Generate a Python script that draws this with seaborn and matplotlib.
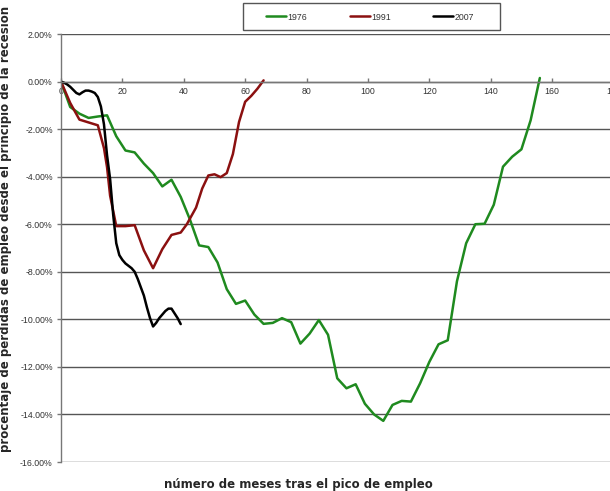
import numpy as np
import pandas as pd
import matplotlib
matplotlib.use("Agg")
import matplotlib.pyplot as plt
from matplotlib.patches import Rectangle
import seaborn as sns
from matplotlib.ticker import FuncFormatter

# ---- data (percent job losses vs. months after employment peak) ----
series_names = ["1976", "1991", "2007"]

x_1976 = [0, 3, 6, 9, 12, 15, 18, 21, 24, 27, 30, 33, 36, 39, 42, 45, 48, 51, 54,
          57, 60, 63, 66, 69, 72, 75, 78, 81, 84, 87, 90, 93, 96, 99, 102, 105,
          108, 111, 114, 117, 120, 123, 126, 129, 132, 135, 138, 141, 144, 147,
          150, 153, 156]
y_1976 = [0.0, -1.07, -1.35, -1.53, -1.47, -1.42, -2.3, -2.9, -2.98, -3.45, -3.85,
          -4.41, -4.13, -4.85, -5.8, -6.89, -6.96, -7.61, -8.73, -9.35, -9.21,
          -9.8, -10.19, -10.15, -9.95, -10.12, -11.02, -10.6, -10.03, -10.65,
          -12.48, -12.9, -12.73, -13.55, -14.0, -14.27, -13.6, -13.43, -13.46,
          -12.69, -11.79, -11.05, -10.88, -8.4, -6.8, -6.0, -5.98, -5.18, -3.58,
          -3.16, -2.85, -1.63, 0.15]

x_1991 = [0, 3, 6, 9, 12, 14, 15, 16, 18, 21, 24, 27, 30, 33, 36, 39, 41, 44, 46,
          48, 50, 52, 54, 56, 58, 60, 62, 64, 66]
y_1991 = [0.0, -0.9, -1.6, -1.72, -1.84, -2.8, -3.6, -4.8, -6.08, -6.08, -6.04,
          -7.1, -7.85, -7.05, -6.45, -6.35, -6.0, -5.3, -4.5, -3.95, -3.9, -4.02,
          -3.85, -3.05, -1.7, -0.85, -0.6, -0.3, 0.05]

x_2007 = list(range(0, 40))
y_2007 = [0.0, -0.05, -0.12, -0.22, -0.35, -0.48, -0.54, -0.45, -0.38, -0.38,
          -0.42, -0.48, -0.65, -1.05, -1.8, -3.1, -4.1, -5.6, -6.8, -7.3, -7.5,
          -7.65, -7.75, -7.85, -8.0, -8.3, -8.65, -9.0, -9.5, -9.95, -10.3,
          -10.15, -9.95, -9.8, -9.65, -9.55, -9.55, -9.75, -9.95, -10.2]

x_ticks = [0, 20, 40, 60, 80, 100, 120, 140, 160, 180]
y_ticks = [2, 0, -2, -4, -6, -8, -10, -12, -14, -16]

colors = {"1976": "#1f8a1f", "1991": "#8b1010", "2007": "#000000"}

frames = []
for name, xs, ys in [("1976", x_1976, y_1976), ("1991", x_1991, y_1991),
                     ("2007", x_2007, y_2007)]:
    frames.append(pd.DataFrame({"meses": xs, "pct": ys, "serie": name}))
df = pd.concat(frames, ignore_index=True)

# ---- figure ----
sns.set_style("white")
plt.rcParams["font.family"] = ["Liberation Sans", "DejaVu Sans"]

fig = plt.figure(figsize=(6.10, 4.91), dpi=100)
ax = fig.add_axes([61 / 610, 1 - 462 / 491, 552.5 / 610, 428 / 491])

for name in series_names:
    sub = df[df["serie"] == name]
    sns.lineplot(data=sub, x="meses", y="pct", ax=ax, color=colors[name],
                 linewidth=1.8, estimator=None, sort=False, label=name,
                 legend=False)

ax.set_xlim(0, 180)
ax.set_ylim(-16, 2)
ax.set_xticks(x_ticks)
ax.set_yticks(y_ticks)
ax.yaxis.set_major_formatter(FuncFormatter(lambda v, p: f"{v:.2f}%"))

# gridlines
for v in y_ticks:
    ax.axhline(v, color="#555555", linewidth=1.0, zorder=0.5)

for s in ["top", "right"]:
    ax.spines[s].set_visible(False)
ax.spines["left"].set_color("#777777")
ax.spines["left"].set_linewidth(1.0)
ax.spines["bottom"].set_position(("data", 0))
ax.spines["bottom"].set_color("#777777")
ax.spines["bottom"].set_linewidth(1.0)

ax.tick_params(axis="x", direction="in", length=3, width=1, colors="#777777",
               labelcolor="#333333", labelsize=6.3, pad=4)
ax.tick_params(axis="y", direction="out", length=3, width=1, colors="#777777",
               labelcolor="#333333", labelsize=6.3, pad=3)
ax.xaxis.set_ticks_position("bottom")
ax.yaxis.set_ticks_position("left")

ax.set_xlabel("número de meses tras el pico de empleo", fontsize=8.5,
              fontweight="bold", family="DejaVu Sans")
ax.xaxis.set_label_coords(0.429, -0.037)
ax.set_ylabel("procentaje de pérdidas de empleo desde el principio de la recesión",
              fontsize=8.5, fontweight="bold", family="DejaVu Sans")
ax.yaxis.set_label_coords(-0.088, 0.545)

# legend box + entries
fig.add_artist(Rectangle((243 / 610, 1 - 30 / 491), 257 / 610, 27 / 491,
                         transform=fig.transFigure, fill=True, facecolor="white",
                         edgecolor="#555555", linewidth=1.0, zorder=5))
handles = [plt.Line2D([], [], color=colors[n], linewidth=1.8) for n in series_names]
leg = fig.legend(handles, series_names, loc="center",
                 bbox_to_anchor=(370 / 610, 1 - 17 / 491),
                 ncol=3, fontsize=6.3, frameon=False,
                 handlelength=2.3, handletextpad=0.15, columnspacing=4.8,
                 borderaxespad=0, borderpad=0.2)
leg.set_zorder(6)
for t in leg.get_texts():
    t.set_color("#333333")

fig.savefig("out.png", dpi=100, facecolor="white")
